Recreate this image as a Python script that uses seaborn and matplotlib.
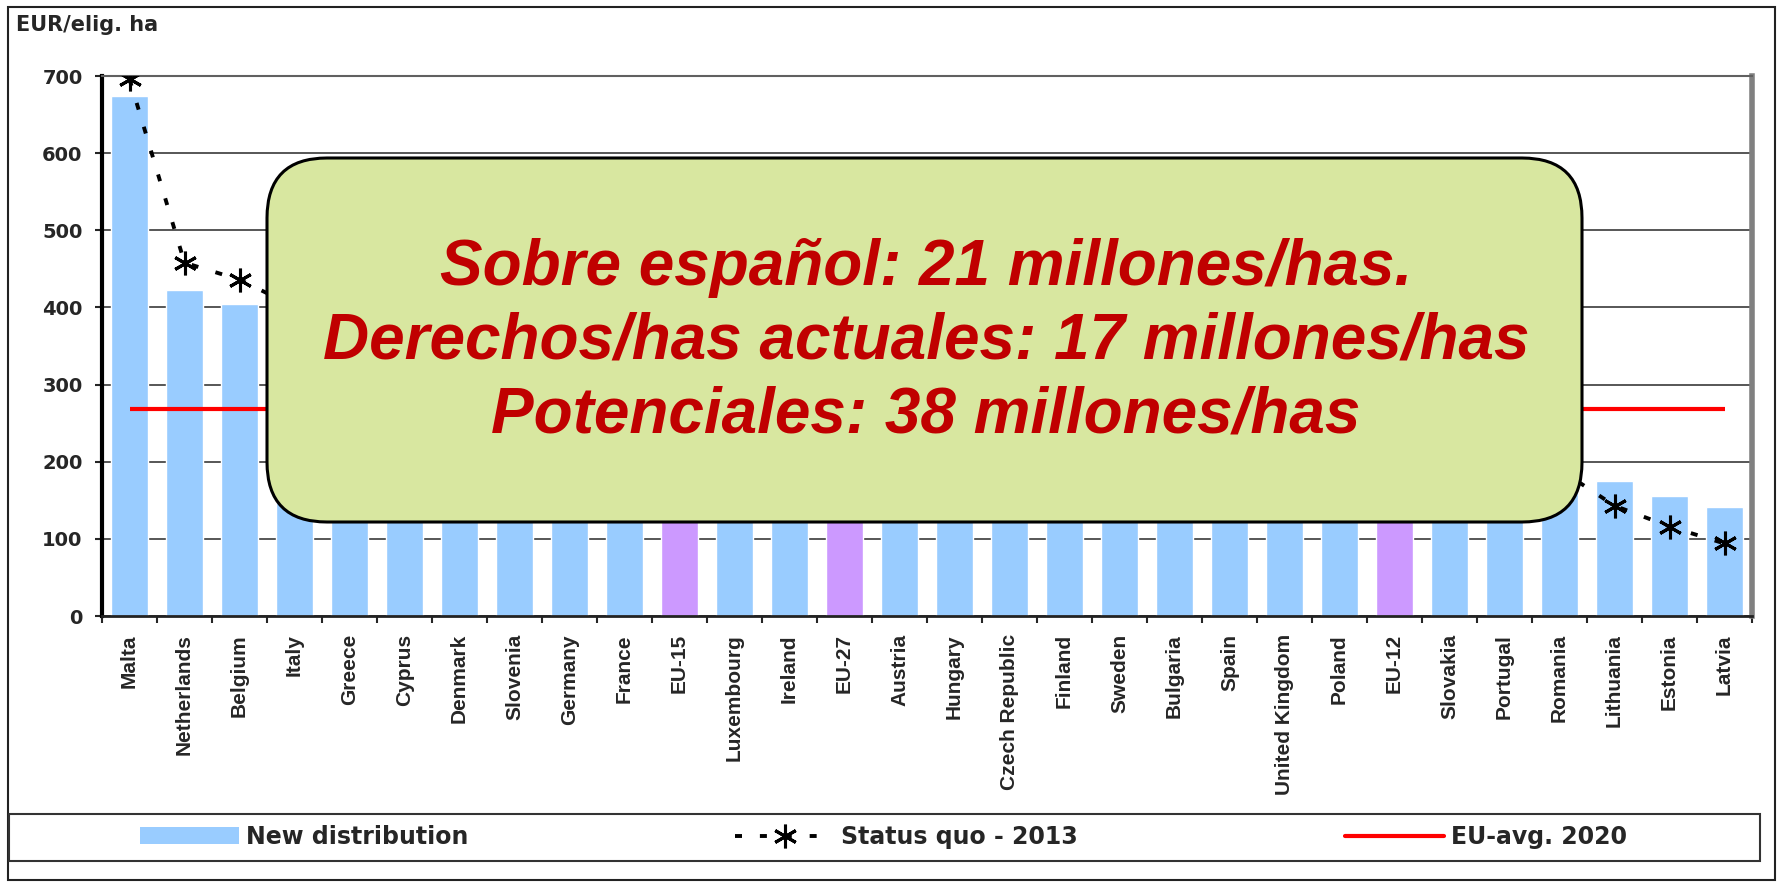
import matplotlib
matplotlib.use("Agg")
import matplotlib.pyplot as plt
import numpy as np
import seaborn as sns
from matplotlib.lines import Line2D
from matplotlib.patches import FancyBboxPatch, Patch, Rectangle

categories = ["Malta", "Netherlands", "Belgium", "Italy", "Greece", "Cyprus",
              "Denmark", "Slovenia", "Germany", "France", "EU-15", "Luxembourg",
              "Ireland", "EU-27", "Austria", "Hungary", "Czech Republic", "Finland",
              "Sweden", "Bulgaria", "Spain", "United Kingdom", "Poland", "EU-12",
              "Slovakia", "Portugal", "Romania", "Lithuania", "Estonia", "Latvia"]
new_distribution = [674, 423, 405, 380, 368, 352, 350, 335, 320, 290, 285, 283,
                    278, 262, 245, 250, 245, 232, 230, 228, 226, 225, 215, 205,
                    200, 193, 188, 175, 156, 141]
status_quo_2013 = [696, 458, 436, 401, 393, 375, 372, 352, 340, 298, 294, 292,
                   288, 269, 262, 257, 252, 240, 235, 232, 230, 228, 216, 201,
                   198, 194, 190, 143, 116, 94]
EU_AVG_2020 = 268
aggregates = ["EU-15", "EU-27", "EU-12"]
yticks = [0, 100, 200, 300, 400, 500, 600, 700]

box_lines = ["Sobre español: 21 millones/has.",
             "Derechos/has actuales: 17 millones/has",
             "Potenciales: 38 millones/has"]

BLUE, PURPLE, RED, DARKRED = "#99CCFF", "#CC99FF", "#FF0000", "#C00000"
W, H = 1777, 884


def fx(px):
    return px / W


def fy(py):
    return 1 - py / H


sns.set_style("white")
fig = plt.figure(figsize=(W / 100, H / 100), dpi=100)
ax = fig.add_axes([fx(102), fy(616), fx(1752) - fx(102), fy(76) - fy(616)])

palette = {c: (PURPLE if c in aggregates else BLUE) for c in categories}
sns.barplot(x=categories, y=new_distribution, hue=categories, palette=palette,
            legend=False, width=0.66, saturation=1, ax=ax, zorder=2)

sq_style = dict(color="black", linestyle=(0, (1.8, 4.6)), linewidth=2.8,
                marker=(6, 2, 0), markersize=17, markeredgewidth=2.2)
ax.plot(np.arange(len(categories)), status_quo_2013, zorder=4, **sq_style)
ax.hlines(EU_AVG_2020, 0, len(categories) - 1, color=RED, linewidth=3, zorder=3)

ax.set_xlim(-0.5, len(categories) - 0.5)
ax.set_ylim(0, 700)
ax.set_yticks(yticks)
ax.set_yticklabels([str(t) for t in yticks], fontfamily="DejaVu Sans",
                   fontweight="bold", fontsize=14)
ax.yaxis.grid(True, color="#3a3a3a", linewidth=1.2, zorder=0)
ax.set_axisbelow(True)
ax.tick_params(axis="y", direction="out", length=5, width=1.5, pad=9, left=True)

ax.set_xticks(np.arange(len(categories)))
ax.set_xticklabels(categories, rotation=90, fontsize=15, fontweight="bold",
                   fontfamily="Liberation Sans")
ax.tick_params(axis="x", which="major", length=0, pad=13)
ax.set_xticks(np.arange(len(categories) + 1) - 0.5, minor=True)
ax.tick_params(axis="x", which="minor", direction="out", length=5, width=1.5,
               bottom=True)
ax.set_xlabel("")
ax.set_ylabel("")

ax.spines["left"].set(color="black", linewidth=3)
ax.spines["bottom"].set(color="#222222", linewidth=2)
ax.spines["top"].set(color="#606060", linewidth=1.5)
ax.spines["right"].set(color="#808080", linewidth=4)

fig.text(fx(16), fy(25), "EUR/elig. ha", fontfamily="DejaVu Sans",
         fontweight="bold", fontsize=15, ha="left", va="center")

# text box laid over the chart
box = FancyBboxPatch((fx(267), fy(522)), fx(1582) - fx(267), fy(158) - fy(522),
                     boxstyle=f"round,pad=0,rounding_size={60 / W}",
                     mutation_aspect=W / H, transform=fig.transFigure,
                     facecolor="#D8E7A0", edgecolor="black", linewidth=2.2,
                     zorder=5)
fig.add_artist(box)
for line, py in zip(box_lines, [268, 342, 416]):
    fig.text(fx(926), fy(py), line, ha="center", va="center", color=DARKRED,
             fontsize=46, fontweight="bold", fontstyle="italic",
             fontfamily="Liberation Sans", zorder=6)

# frames
fig.add_artist(Rectangle((fx(8), fy(880)), fx(1775) - fx(8), fy(7) - fy(880),
                         transform=fig.transFigure, fill=False,
                         edgecolor="#222222", linewidth=1.5))
fig.add_artist(Rectangle((fx(9), fy(861)), fx(1760) - fx(9), fy(814) - fy(861),
                         transform=fig.transFigure, fill=False,
                         edgecolor="#333333", linewidth=1.5))

# legend, one entry per column like the original
items = [
    (Patch(facecolor=BLUE, edgecolor="none"), "New distribution", 140),
    (Line2D([], [], **sq_style), "Status quo - 2013", 735),
    (Line2D([], [], color=RED, linewidth=3), "EU-avg. 2020", 1345),
]
for handle, label, px in items:
    fig.legend([handle], [label], loc="center left",
               bbox_to_anchor=(fx(px), fy(837)), frameon=False, borderpad=0,
               borderaxespad=0, handlelength=4.2, handleheight=0.7,
               handletextpad=0.3,
               prop={"family": "DejaVu Sans", "weight": "bold", "size": 17})

fig.savefig("out.png", dpi=100)
